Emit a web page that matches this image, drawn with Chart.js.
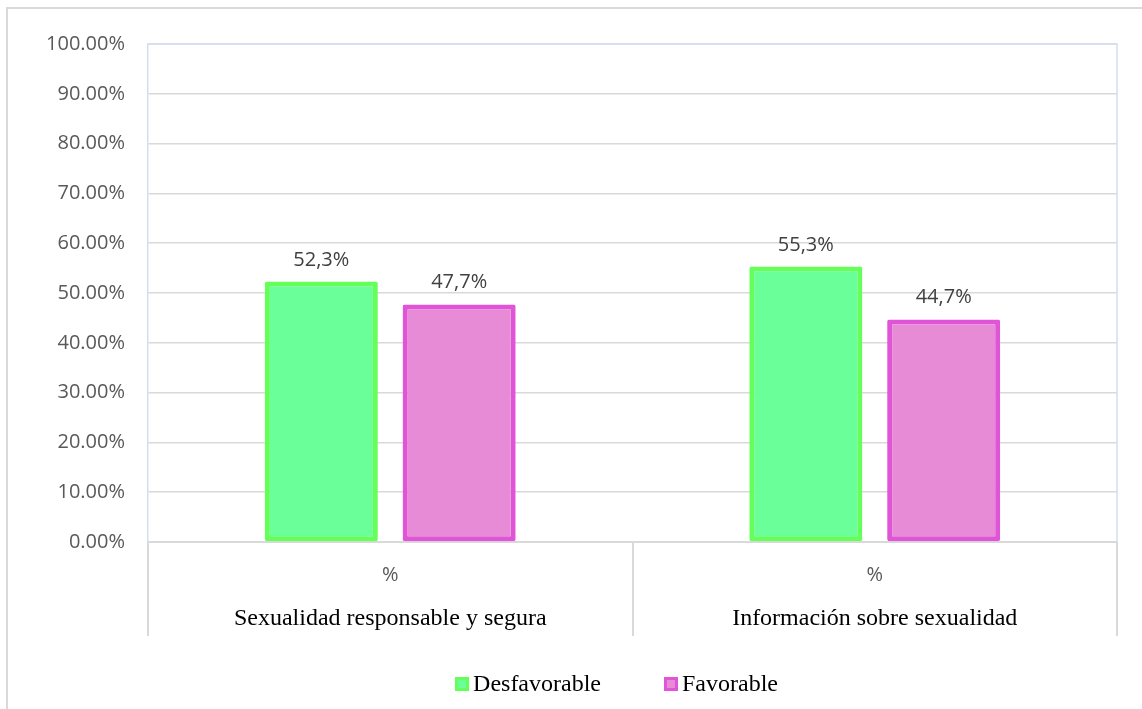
<!DOCTYPE html>
<html>
<head>
<meta charset="utf-8">
<script src="https://cdn.jsdelivr.net/npm/chart.js@4/dist/chart.umd.min.js"></script>
<style>
  html, body { margin: 0; padding: 0; background: #ffffff; }
  canvas { display: block; }
</style>
</head>
<body>
<canvas id="c" width="1142" height="709"></canvas>
<script>
// ---- data ----
const categories = ['Sexualidad responsable y segura', 'Información sobre sexualidad'];
const subLabels = ['%', '%'];
const seriesNames = ['Desfavorable', 'Favorable'];
const desfavorable = [52.3, 55.3];
const favorable = [47.7, 44.7];
const yTicks = [0, 10, 20, 30, 40, 50, 60, 70, 80, 90, 100];

const colors = {
  greenFill: 'rgb(106,255,152)',
  greenBorder: 'rgb(100,255,88)',
  pinkFill: 'rgb(232,139,215)',
  pinkBorder: 'rgb(224,84,216)'
};

const sans = '"Open Sans", "Noto Sans", sans-serif';
const serif = '"Liberation Serif", "DejaVu Serif", serif';

const decorPlugin = {
  id: 'decor',
  beforeDraw(chart) {
    const ctx = chart.ctx;
    ctx.save();
    ctx.strokeStyle = '#d9d9d9';
    ctx.lineWidth = 2;
    ctx.strokeRect(7, 8, chart.width + 20, chart.height + 20);
    ctx.restore();
  },
  beforeDatasetsDraw(chart) {
    const ctx = chart.ctx;
    const a = chart.chartArea;
    ctx.save();
    ctx.strokeStyle = '#d6ddf1';
    ctx.lineWidth = 1.5;
    ctx.beginPath();
    ctx.moveTo(a.left, a.top);
    ctx.lineTo(a.right, a.top);
    ctx.lineTo(a.right, a.bottom);
    ctx.stroke();
    ctx.restore();
  },
  afterDraw(chart) {
    const ctx = chart.ctx;
    const a = chart.chartArea;
    const x = chart.scales.x;
    const x2 = chart.scales.x2;
    ctx.save();
    // separators of the two-level category axis
    ctx.strokeStyle = '#d9d9d9';
    ctx.lineWidth = 2;
    const xs = [x.left, x.right];
    for (let i = 0; i < categories.length - 1; i++) {
      xs.push((x.getPixelForValue(i) + x.getPixelForValue(i + 1)) / 2);
    }
    ctx.beginPath();
    xs.forEach(px => {
      ctx.moveTo(Math.round(px), a.bottom);
      ctx.lineTo(Math.round(px), x2.bottom - 4);
    });
    ctx.stroke();

    // data labels
    ctx.fillStyle = '#404040';
    ctx.font = '20px ' + sans;
    ctx.textAlign = 'center';
    ctx.textBaseline = 'alphabetic';
    chart.data.datasets.forEach((ds, di) => {
      const meta = chart.getDatasetMeta(di);
      meta.data.forEach((bar, i) => {
        const v = ds.data[i];
        ctx.fillText(v.toFixed(1).replace('.', ',') + '%', bar.x, bar.y - 16);
      });
    });

    // legend
    ctx.font = '24px ' + serif;
    ctx.textAlign = 'left';
    ctx.textBaseline = 'middle';
    const box = 14, gapText = 4, gapItem = 63;
    const widths = chart.data.datasets.map(ds => box + gapText + ctx.measureText(ds.label).width);
    const total = widths.reduce((s, w) => s + w, 0) + gapItem * (widths.length - 1);
    const cx = (a.left + a.right) / 2 - 16;
    let px = cx - total / 2;
    const cy = 684;
    chart.data.datasets.forEach((ds, di) => {
      ctx.fillStyle = ds.backgroundColor;
      ctx.fillRect(px, cy - box / 2, box, box);
      ctx.strokeStyle = ds.borderColor;
      ctx.lineWidth = 3;
      ctx.strokeRect(px + 1.5, cy - box / 2 + 1.5, box - 3, box - 3);
      ctx.fillStyle = '#000000';
      ctx.fillText(ds.label, px + box + gapText, cy + 1);
      px += widths[di] + gapItem;
    });
    ctx.restore();
  }
};

new Chart(document.getElementById('c'), {
  type: 'bar',
  data: {
    labels: categories,
    datasets: [
      {
        label: seriesNames[0],
        data: desfavorable,
        backgroundColor: colors.greenFill,
        borderColor: colors.greenBorder,
        borderWidth: 5,
        borderRadius: 2,
        borderSkipped: false
      },
      {
        label: seriesNames[1],
        data: favorable,
        backgroundColor: colors.pinkFill,
        borderColor: colors.pinkBorder,
        borderWidth: 5,
        borderRadius: 2,
        borderSkipped: false
      }
    ]
  },
  options: {
    responsive: false,
    animation: false,
    events: [],
    datasets: {
      bar: { categoryPercentage: 0.569, barPercentage: 0.82 }
    },
    layout: { padding: { left: 0, top: 44, right: 25, bottom: 69 } },
    plugins: {
      legend: { display: false },
      tooltip: { enabled: false },
      title: { display: false }
    },
    scales: {
      x: {
        type: 'category',
        position: 'bottom',
        weight: 0,
        offset: true,
        grid: { display: false, drawTicks: false },
        border: { display: true, color: '#d9d9d9', width: 2 },
        ticks: {
          padding: 21,
          font: { family: sans, size: 20 },
          color: '#595959',
          maxRotation: 0,
          autoSkip: false,
          callback: (v, i) => subLabels[i]
        },
        afterFit(scale) { scale.height = 54; }
      },
      x2: {
        type: 'category',
        position: 'bottom',
        weight: 1,
        offset: true,
        labels: categories,
        grid: { display: false, drawTicks: false },
        border: { display: false },
        ticks: {
          padding: 8,
          font: { family: serif, size: 24 },
          color: '#000000',
          maxRotation: 0,
          autoSkip: false
        },
        afterFit(scale) { scale.height = 44; }
      },
      y: {
        min: 0,
        max: 100,
        afterBuildTicks(scale) { scale.ticks = yTicks.map(v => ({ value: v })); },
        grid: {
          drawTicks: false,
          color: c => (c.tick && c.tick.value === 100) ? '#d6ddf1' : '#d9d9d9',
          lineWidth: 1.5
        },
        border: { display: true, color: '#d6ddf1', width: 1.5 },
        ticks: {
          padding: 23,
          font: { family: sans, size: 20 },
          color: '#595959',
          callback: v => Number(v).toFixed(2) + '%'
        },
        afterFit(scale) { scale.width = 148; }
      }
    }
  },
  plugins: [decorPlugin]
});
</script>
</body>
</html>
